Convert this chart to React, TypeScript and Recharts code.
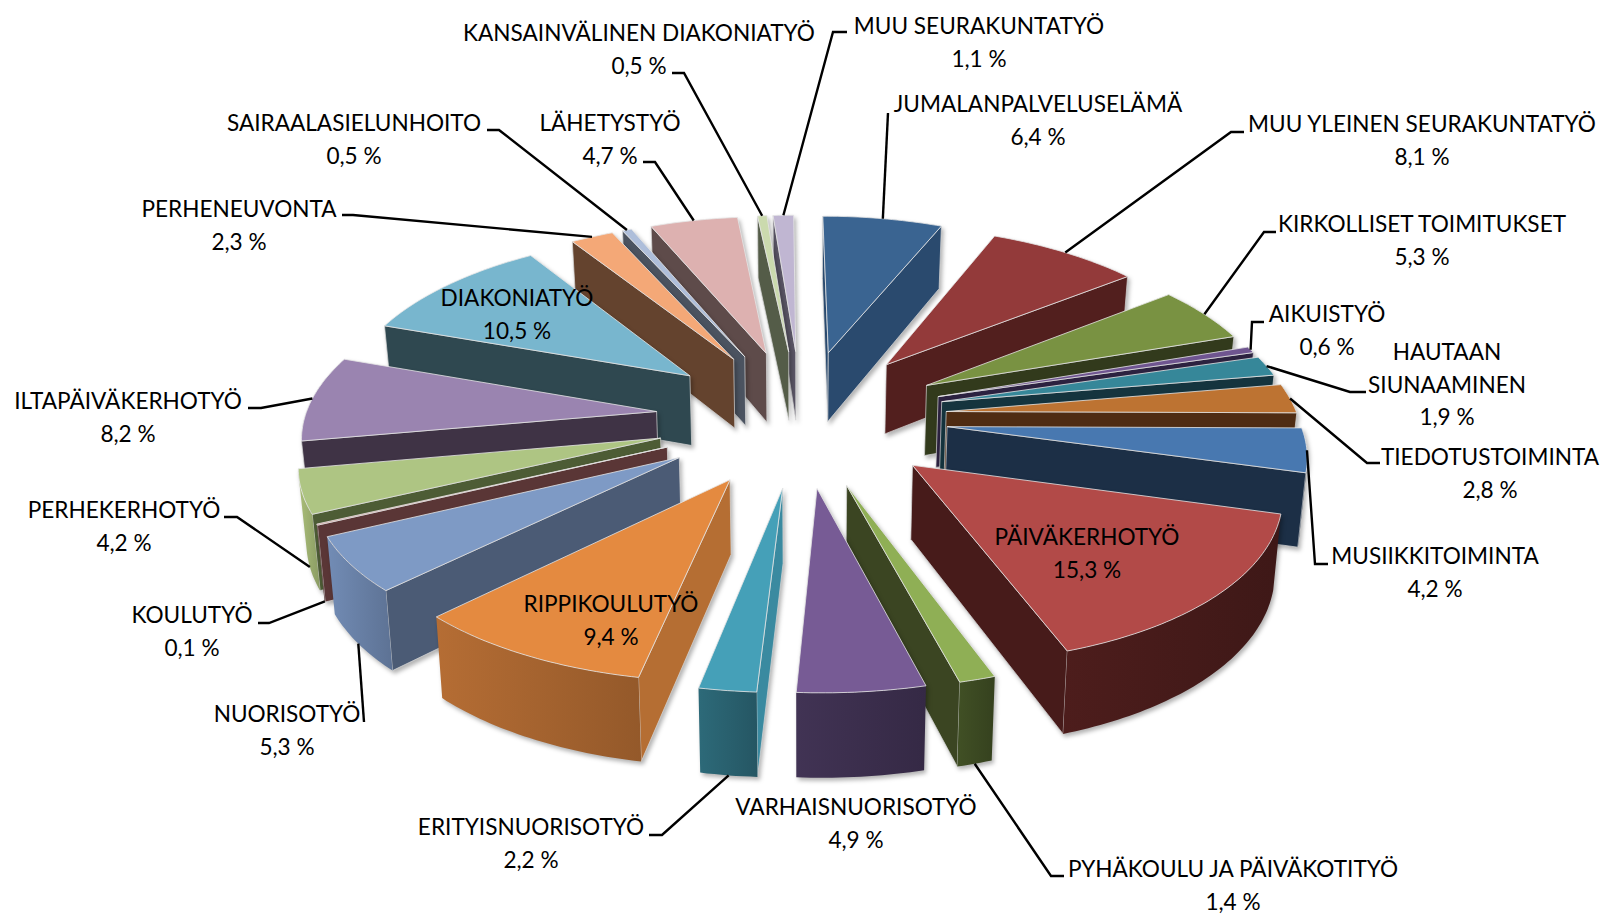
import { PieChart, Pie } from "recharts";

const categories = [
  "JUMALANPALVELUSELÄMÄ", "MUU YLEINEN SEURAKUNTATYÖ", "KIRKOLLISET TOIMITUKSET", "AIKUISTYÖ",
  "HAUTAAN SIUNAAMINEN", "TIEDOTUSTOIMINTA", "MUSIIKKITOIMINTA", "PÄIVÄKERHOTYÖ",
  "PYHÄKOULU JA PÄIVÄKOTITYÖ", "VARHAISNUORISOTYÖ", "ERITYISNUORISOTYÖ", "RIPPIKOULUTYÖ",
  "NUORISOTYÖ", "KOULUTYÖ", "PERHEKERHOTYÖ", "ILTAPÄIVÄKERHOTYÖ", "DIAKONIATYÖ",
  "PERHENEUVONTA", "SAIRAALASIELUNHOITO", "LÄHETYSTYÖ", "KANSAINVÄLINEN DIAKONIATYÖ", "MUU SEURAKUNTATYÖ",
];
const shares = [6.4, 8.1, 5.3, 0.6, 1.9, 2.8, 4.2, 15.3, 1.4, 4.9, 2.2, 9.4, 5.3, 0.1, 4.2, 8.2, 10.5, 2.3, 0.5, 4.7, 0.5, 1.1];

const topColors = [
  "#3A6491", "#933A3A", "#799242", "#6F5590", "#368799", "#BD7332", "#4878B0", "#B24A48", "#8FAF55", "#775B95", "#45A0B8",
  "#E48A40", "#7E9AC5", "#CD8F8D", "#AEC583", "#9A84B0", "#78B6CE", "#F4A877", "#AEBEDA", "#DDB1B0", "#CBDAAE", "#C0B6D2",
];
const wallColors = [
  "#2A4A6E", "#521F1E", "#323A1C", "#2C2240", "#15343E", "#4F2C13", "#1C2F46", "#471B1A", "#3B4522", "#3C2F4E", "#3A8AA0",
  "#B56E33", "#4B5B75", "#5A3636", "#4D5C35", "#3F3345", "#2F4850", "#64432E", "#4B5360", "#5E4B4A", "#545C48", "#5A5565",
];
const arcColors = [
  "#2A4A6E", "#521F1E", "#323A1C", "#2C2240", "#15343E", "#4F2C13", "#1C2F46", "#471B1A", "#3C4A22", "#3C2F4E", "#2A6270",
  "#A86530", "#6A82A8", "#5A3636", "#9DB070", "#3F3345", "#2F4850", "#64432E", "#4B5360", "#5E4B4A", "#545C48", "#5A5565",
];

// label boxes and leader elbows, wall = how far down the side the leader lands
const labelLayout: { x: number; y: number; pts?: number[][]; wall?: number; lines?: string[] }[] = [
  { x: 1038, y: 112, pts: [[888, 113]] },
  { x: 1422, y: 132, pts: [[1244, 132], [1231, 132]] },
  { x: 1422, y: 232, pts: [[1276, 232], [1264, 232]] },
  { x: 1327, y: 322, pts: [[1264, 322], [1252, 322]] },
  { x: 1447, y: 360, pts: [[1366, 392], [1350, 392]], lines: ["HAUTAAN", "SIUNAAMINEN"] },
  { x: 1490, y: 465, pts: [[1380, 463], [1367, 463]] },
  { x: 1435, y: 564, pts: [[1328, 564], [1315, 564]] },
  { x: 1087, y: 545 },
  { x: 1233, y: 877, pts: [[1064, 876], [1051, 876]], wall: 1 },
  { x: 856, y: 815 },
  { x: 531, y: 835, pts: [[649, 835], [662, 835]], wall: 1 },
  { x: 611, y: 612 },
  { x: 287, y: 722, pts: [[364, 722]], wall: 1 },
  { x: 192, y: 623, pts: [[258, 623], [269, 623]], wall: 1 },
  { x: 124, y: 518, pts: [[224, 517], [237, 517]], wall: 1 },
  { x: 128, y: 409, pts: [[248, 408], [261, 408]] },
  { x: 517, y: 306 },
  { x: 239, y: 217, pts: [[342, 215], [353, 215]] },
  { x: 354, y: 131, pts: [[487, 130], [499, 130]] },
  { x: 610, y: 131, pts: [[643, 162], [655, 162]] },
  { x: 639, y: 41, pts: [[672, 73], [684, 73]] },
  { x: 979, y: 34, pts: [[847, 32], [833, 32]] },
];

const slices = categories.map((name, i) => ({ name, value: shares[i], i }));
const reversedSlices = [...slices].reverse();

const CX = 801.5;
const CY = 417;
const RADIUS = 351.5;
const TILT = 0.469;
const DEPTH = 0.204;
const PERSPECTIVE_X = 0.125;
const PERSPECTIVE_Y = 0.11;
const SHEAR = 0.007;
const CONVERGE = 0.016;
const EXPLODE = 0.415;
const FONT = "Lato, Carlito, sans-serif";

type Pt = [number, number];
const rad = (d: number) => (d * Math.PI) / 180;
const project = (x: number, z: number, h: number): Pt => {
  const wx = 1 - PERSPECTIVE_X * z;
  const wy = 1 - PERSPECTIVE_Y * z;
  return [
    CX + ((RADIUS * x) / wx) * (1 - CONVERGE * h) + RADIUS * SHEAR * z,
    CY + (RADIUS * TILT * z + RADIUS * DEPTH * h) / wy,
  ];
};
const pathOf = (pts: Pt[]) => "M" + pts.map((p) => p[0].toFixed(1) + " " + p[1].toFixed(1)).join("L") + "Z";
const area = (p: Pt[]) => p.reduce((s, a, i) => s + a[0] * p[(i + 1) % p.length][1] - p[(i + 1) % p.length][0] * a[1], 0);

// recharts hands angles counter-clockwise from 3 o'clock, the drawing wants clockwise from 12
const sweep = (startAngle: number, endAngle: number) => {
  const a = 90 - startAngle;
  const b = 90 - endAngle;
  let lo = Math.min(a, b);
  let hi = Math.max(a, b);
  if (lo < -1e-6) {
    lo += 360;
    hi += 360;
  }
  return [lo, hi];
};
const shade = (hex: string, f: number) => {
  const n = parseInt(hex.slice(1), 16);
  const c = (v: number) => Math.min(255, Math.round(v * f));
  return `rgb(${c(n >> 16)},${c((n >> 8) & 255)},${c(n & 255)})`;
};

const sliceFrame = (lo: number, hi: number) => {
  const mid = (lo + hi) / 2;
  const tx = EXPLODE * Math.sin(rad(mid));
  const tz = -EXPLODE * Math.cos(rad(mid));
  const outer = (t: number, h: number) => project(tx + Math.sin(rad(t)), tz - Math.cos(rad(t)), h);
  const tip = (h: number) => project(tx, tz, h);
  return { mid, outer, tip };
};

function Slice3D(props: any, side: "right" | "left") {
  const [lo, hi] = sweep(props.startAngle, props.endAngle);
  const { mid, outer, tip } = sliceFrame(lo, hi);
  if ((mid < 180) !== (side === "right")) return <g />;
  const i = props.payload?.i ?? props.i;

  const startWall: Pt[] = [tip(0), outer(lo, 0), outer(lo, 1), tip(1)];
  const endWall: Pt[] = [tip(0), outer(hi, 0), outer(hi, 1), tip(1)];
  const steps = Math.max(1, Math.ceil(hi - lo));
  const arc: Pt[] = [];
  const arcTop: Pt[] = [];
  const arcBottom: Pt[] = [];
  for (let s = 0; s <= steps; s++) {
    const t = lo + ((hi - lo) * s) / steps;
    arc.push(outer(t, 0));
    if (s === steps) break;
    const b = lo + ((hi - lo) * (s + 1)) / steps;
    // keep only the part of the rim that faces the viewer
    if (area([outer(t, 0), outer(b, 0), outer(b, 1), outer(t, 1)]) < 0) {
      if (!arcTop.length) {
        arcTop.push(outer(t, 0));
        arcBottom.push(outer(t, 1));
      }
      arcTop.push(outer(b, 0));
      arcBottom.push(outer(b, 1));
    }
  }
  const rim = [...arcTop, ...arcBottom.reverse()];
  const xs = rim.map((p) => p[0]);
  const gradId = `rim-${i}`;

  return (
    <g style={{ filter: "drop-shadow(2px 3px 2px rgba(0,0,0,0.3))" }}>
      {area(startWall) < 0 && <path d={pathOf(startWall)} fill={wallColors[i]} stroke="#D8D8D8" strokeWidth={0.7} />}
      {area(endWall) > 0 && <path d={pathOf(endWall)} fill={wallColors[i]} stroke="#D8D8D8" strokeWidth={0.7} />}
      {rim.length > 0 && (
        <>
          <linearGradient id={gradId} gradientUnits="userSpaceOnUse" x1={Math.min(...xs)} x2={Math.max(...xs)} y1={0} y2={0}>
            <stop offset="0" stopColor={shade(arcColors[i], 1.08)} />
            <stop offset="1" stopColor={shade(arcColors[i], 0.88)} />
          </linearGradient>
          <path d={pathOf(rim)} fill={`url(#${gradId})`} />
        </>
      )}
      <path d={pathOf([tip(0), ...arc])} fill={topColors[i]} stroke="#E6E6E6" strokeWidth={0.8} />
    </g>
  );
}

function renderLabel(props: any) {
  const i = props.payload?.i ?? props.i ?? props.index;
  const l = labelLayout[i];
  const [lo, hi] = sweep(props.startAngle, props.endAngle);
  const { mid, outer } = sliceFrame(lo, hi);
  const leader = l.pts ? [...l.pts, outer(mid, l.wall ?? 0)] : null;
  const lines = [...(l.lines ?? [categories[i]]), `${String(shares[i]).replace(".", ",")} %`];
  return (
    <g key={i}>
      {leader && <polyline points={leader.map((p) => p.join(",")).join(" ")} fill="none" stroke="#000" strokeWidth={2.4} />}
      {lines.map((t, k) => (
        <text key={k} x={l.x} y={l.y + k * 32.7} textAnchor="middle" fontFamily={FONT} fontSize={22.6} fill="#000">
          {t}
        </text>
      ))}
    </g>
  );
}

export default function App() {
  return (
    <div style={{ position: "absolute", left: 0, top: 0, width: 1605, height: 915, background: "#fff" }}>
      <PieChart width={1605} height={915} margin={{ top: 0, right: 0, bottom: 0, left: 0 }}>
        {/* back to front: right half clockwise, left half counter-clockwise, then the labels */}
        <Pie
          data={slices} dataKey="value" cx={CX} cy={CY} outerRadius={RADIUS}
          startAngle={90} endAngle={-270} isAnimationActive={false}
          shape={(p: any) => Slice3D(p, "right")}
        />
        <Pie
          data={reversedSlices} dataKey="value" cx={CX} cy={CY} outerRadius={RADIUS}
          startAngle={90} endAngle={450} isAnimationActive={false}
          shape={(p: any) => Slice3D(p, "left")}
        />
        <Pie
          data={slices} dataKey="value" cx={CX} cy={CY} outerRadius={RADIUS}
          startAngle={90} endAngle={-270} isAnimationActive={false}
          shape={() => <g />} label={renderLabel} labelLine={false}
        />
      </PieChart>
    </div>
  );
}
